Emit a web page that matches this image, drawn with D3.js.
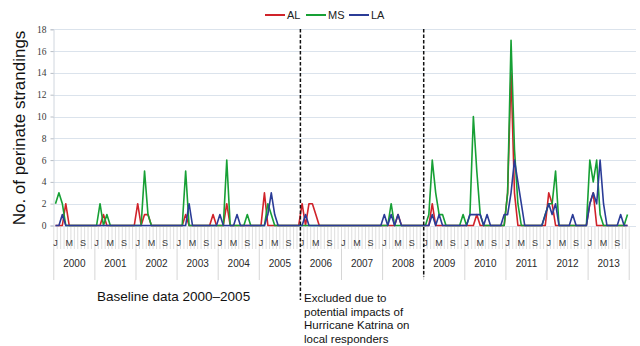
<!DOCTYPE html>
<html>
<head>
<meta charset="utf-8">
<script src="https://cdn.jsdelivr.net/npm/d3@7"></script>
<style>
  body { margin: 0; background: #fff; }
  svg { display: block; }
</style>
</head>
<body>
<div id="chart"></div>
<script>
// monthly perinate strandings, Jan 2000 .. Dec 2013 (12 values per year)
const years = [2000, 2001, 2002, 2003, 2004, 2005, 2006, 2007, 2008, 2009, 2010, 2011, 2012, 2013];
const monthInitials = ["J", "F", "M", "A", "M", "J", "J", "A", "S", "O", "N", "D"];
const yTicks = [0, 2, 4, 6, 8, 10, 12, 14, 16, 18];

const AL = [
  0,0,0,2,0,0,0,0,0,0,0,0,     // 2000
  0,0,1,0,0,0,0,0,0,0,0,0,     // 2001
  2,0,1,1,0,0,0,0,0,0,0,0,     // 2002
  0,0,1,0,0,0,0,0,0,0,1,0,     // 2003
  0,0,2,0,0,0,0,0,0,0,0,0,     // 2004
  0,3,0,0,0,0,0,0,0,0,0,0,     // 2005
  2,0,2,2,1,0,0,0,0,0,0,0,     // 2006
  0,0,0,0,0,0,0,0,0,0,0,0,     // 2007
  0,0,0,0,1,0,0,0,0,0,0,0,     // 2008
  0,0,2,0,0,0,0,0,0,0,0,0,     // 2009
  0,0,0,1,0,0,0,0,0,0,0,0,     // 2010
  3,14,3,0,0,0,0,0,0,0,0,0,    // 2011
  3,2,0,0,0,0,0,0,0,0,0,0,     // 2012
  2,3,0,0,0,0,0,0,0,0,0,0      // 2013
];
const MS = [
  2,3,2,0,0,0,0,0,0,0,0,0,     // 2000
  0,2,0,1,0,0,0,0,0,0,0,0,     // 2001
  0,0,5,1,0,0,0,0,0,0,0,0,     // 2002
  0,0,5,0,0,0,0,0,0,0,0,0,     // 2003
  0,0,6,0,0,0,0,0,1,0,0,0,     // 2004
  0,0,2,1,0,0,0,0,0,0,0,0,     // 2005
  0,0,0,0,0,0,0,0,0,0,0,0,     // 2006
  0,0,0,0,0,0,0,0,0,0,0,0,     // 2007
  0,0,2,0,0,0,0,0,0,0,0,0,     // 2008
  0,1,6,3,1,1,0,0,0,0,0,1,     // 2009
  0,1,10,5,1,0,0,0,0,0,0,0,    // 2010
  3,17,7,2,0,0,0,0,0,0,0,1,    // 2011
  2,2,5,0,0,0,0,0,0,0,0,0,     // 2012
  6,4,6,1,0,0,0,0,0,0,0,1      // 2013
];
const LA = [
  0,0,1,0,0,0,0,0,0,0,0,0,     // 2000
  0,0,0,0,0,0,0,0,0,0,0,0,     // 2001
  0,0,0,0,0,0,0,0,0,0,0,0,     // 2002
  0,0,0,2,0,0,0,0,0,0,0,0,     // 2003
  1,0,0,0,0,1,0,0,0,0,0,0,     // 2004
  0,0,1,3,1,0,0,0,0,0,0,0,     // 2005
  0,1,0,0,0,0,0,0,0,0,0,0,     // 2006
  0,0,0,0,0,0,0,0,0,0,0,0,     // 2007
  1,0,1,0,1,0,0,0,0,0,0,0,     // 2008
  0,0,1,0,1,0,0,0,0,0,0,0,     // 2009
  0,1,1,1,1,0,1,0,0,0,0,1,     // 2010
  1,3,6,4,2,0,0,0,0,0,0,1,     // 2011
  2,1,2,0,0,0,0,1,0,0,0,0,     // 2012
  2,3,2,6,2,0,0,0,0,1,0,0      // 2013
];

const seriesNames = ["AL", "MS", "LA"];
const seriesColors = ["#d0232a", "#17a035", "#2b3c97"];
const seriesData = [AL, MS, LA];

// excluded period: Jan 2006 up to Jan 2009
const excludedYears = [2006, 2009];

const W = 640, H = 346;
const nMonths = years.length * 12;

const x = d3.scaleLinear().domain([0, nMonths - 1]).range([55.5, 627.5]);
const y = d3.scaleLinear().domain([0, 18]).range([225.5, 29.3]);

const svg = d3.select("#chart").append("svg")
  .attr("width", W)
  .attr("height", H)
  .style("font-family", "Arial, 'Liberation Sans', sans-serif");

// horizontal gridlines
svg.append("g")
  .selectAll("line")
  .data(yTicks)
  .join("line")
  .attr("x1", 53).attr("x2", 636)
  .attr("y1", d => Math.round(y(d)) + 0.5)
  .attr("y2", d => Math.round(y(d)) + 0.5)
  .attr("stroke", "#dbe3ec")
  .attr("stroke-width", 1);

// y axis
const yAxis = svg.append("g")
  .attr("transform", "translate(53.5,0)")
  .call(d3.axisLeft(y).tickValues(yTicks).tickSize(3).tickPadding(4));
yAxis.select(".domain").attr("stroke", "#d0d6de");
yAxis.selectAll(".tick line").attr("stroke", "#b8bec6");
yAxis.selectAll(".tick text")
  .attr("fill", "#3a3a3a")
  .style("font-family", "'Liberation Serif', 'DejaVu Serif', serif")
  .style("font-size", "9.5px");

// month ticks under the axis
const monthIdx = d3.range(nMonths + 1);
svg.append("g")
  .selectAll("line")
  .data(monthIdx)
  .join("line")
  .attr("x1", d => x(d - 0.5)).attr("x2", d => x(d - 0.5))
  .attr("y1", 227).attr("y2", 249)
  .attr("stroke", "#d6d6d6")
  .attr("stroke-width", 0.8);

// month initials (every 4th month)
svg.append("g")
  .selectAll("text")
  .data(d3.range(nMonths).filter(i => i % 4 === 0))
  .join("text")
  .attr("x", d => x(d))
  .attr("y", 245.5)
  .attr("text-anchor", "middle")
  .attr("fill", "#3a3a3a")
  .style("font-size", "9px")
  .text(d => monthInitials[d % 12]);

// year separators + labels
svg.append("g")
  .selectAll("line")
  .data(d3.range(years.length + 1))
  .join("line")
  .attr("x1", d => x(d * 12 - 0.5)).attr("x2", d => x(d * 12 - 0.5))
  .attr("y1", 249).attr("y2", 280)
  .attr("stroke", "#d6d6d6")
  .attr("stroke-width", 1);

svg.append("g")
  .selectAll("text")
  .data(years)
  .join("text")
  .attr("x", (d, i) => x(i * 12 + 5.5))
  .attr("y", 267)
  .attr("text-anchor", "middle")
  .attr("fill", "#2a2a2a")
  .style("font-size", "10px")
  .text(d => d);

// series lines
const line = d3.line()
  .x((d, i) => x(i))
  .y(d => y(d));

svg.append("g")
  .selectAll("path")
  .data(seriesData)
  .join("path")
  .attr("fill", "none")
  .attr("stroke", (d, i) => seriesColors[i])
  .attr("stroke-width", 1.6)
  .attr("stroke-linejoin", "round")
  .attr("d", line);

// dashed lines marking the excluded period
const dashBottoms = [300, 277];
svg.append("g")
  .selectAll("line")
  .data(excludedYears)
  .join("line")
  .attr("x1", d => x(years.indexOf(d) * 12 - 0.5))
  .attr("x2", d => x(years.indexOf(d) * 12 - 0.5))
  .attr("y1", 29)
  .attr("y2", (d, i) => dashBottoms[i])
  .attr("stroke", "#111")
  .attr("stroke-width", 1.5)
  .attr("stroke-dasharray", "3.5,2");

// legend
const legend = svg.append("g").attr("transform", "translate(265,15)");
const legendStep = [0, 41, 84];
seriesNames.forEach((name, i) => {
  const g = legend.append("g").attr("transform", `translate(${legendStep[i]},0)`);
  g.append("line")
    .attr("x1", 0).attr("x2", 20)
    .attr("stroke", seriesColors[i])
    .attr("stroke-width", 2);
  g.append("text")
    .attr("x", 22).attr("y", 4)
    .attr("fill", "#222")
    .style("font-size", "11px")
    .text(name);
});

// y axis title
svg.append("text")
  .attr("transform", "translate(25,128) rotate(-90)")
  .attr("text-anchor", "middle")
  .attr("fill", "#111")
  .style("font-size", "17px")
  .text("No. of perinate strandings");

// annotations
svg.append("text")
  .attr("x", 97).attr("y", 301)
  .attr("fill", "#111")
  .style("font-size", "13.5px")
  .text("Baseline data 2000–2005");

const note = ["Excluded due to", "potential impacts of", "Hurricane Katrina on", "local responders"];
svg.append("text")
  .attr("fill", "#111")
  .style("font-size", "11.5px")
  .selectAll("tspan")
  .data(note)
  .join("tspan")
  .attr("x", 304)
  .attr("y", (d, i) => 302 + i * 13.5)
  .text(d => d);
</script>
</body>
</html>
